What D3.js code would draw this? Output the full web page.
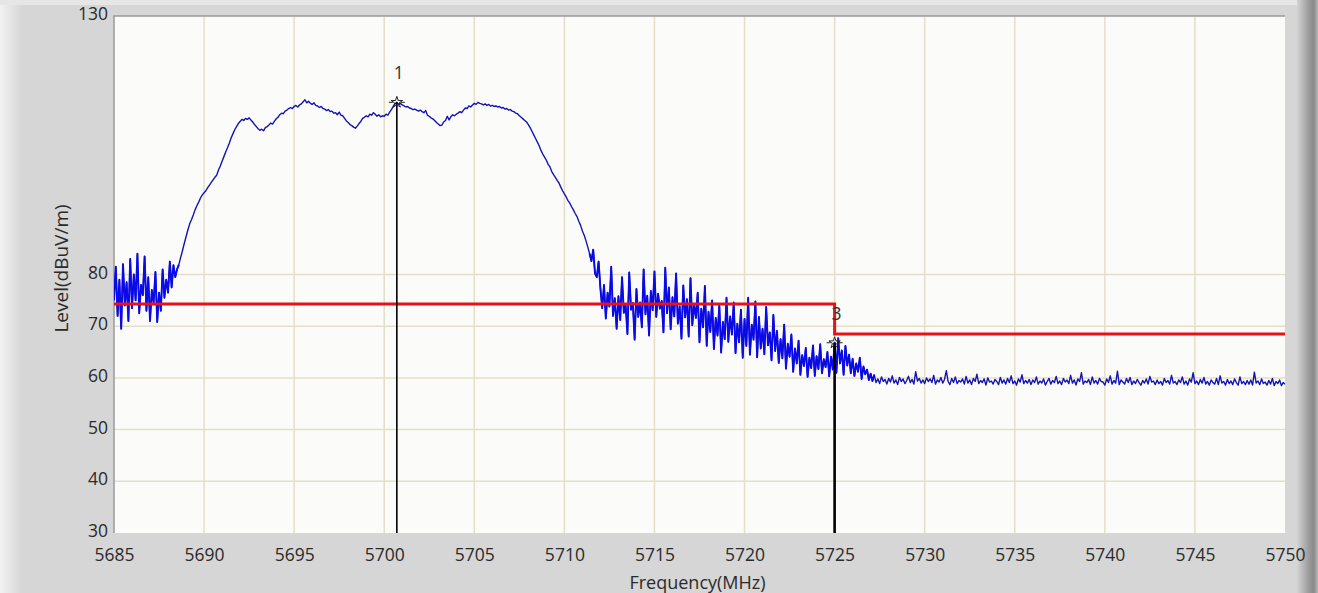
<!DOCTYPE html>
<html>
<head>
<meta charset="utf-8">
<script src="https://cdn.jsdelivr.net/npm/d3@7"></script>
<style>
  html, body { margin: 0; padding: 0; background: #d6d6d6; }
  svg { display: block; }
  .tick text { font-family: "Open Sans", "Noto Sans", sans-serif; font-size: 17.5px; fill: #2a2a2a; }
  .title { font-family: "Open Sans", "Noto Sans", sans-serif; font-size: 18px; fill: #2a2a2a; }
  .mlabel { font-family: "Open Sans", "Noto Sans", sans-serif; font-size: 17.5px; fill: #333; }
</style>
</head>
<body>
<svg id="chart" width="1318" height="593"></svg>
<script>
// Spectrum sweep: level in dBuV/m sampled every 0.1 MHz from 5685.0 to 5750.0 MHz
const freqStart = 5685.0;
const freqStep = 0.1;
const levels = [
  /* 5685 */ 75, 81.5, 72, 79, 69.5, 82, 74, 78.5, 71, 83,
  /* 5686 */ 73.5, 80, 75, 84, 72.5, 78, 76, 83.5, 73, 79.5,
  /* 5687 */ 71, 77, 74.5, 80.5, 70.8, 76.5, 73, 81, 75.5, 79,
  /* 5688 */ 76.5, 82.5, 77.5, 81.8, 79.5, 81, 81.9, 83.3, 84.6, 86,
  /* 5689 */ 87.3, 88.6, 89.8, 90.6, 91.5, 92.5, 93.3, 94, 94.8, 95.4,
  /* 5690 */ 95.8, 96.2, 96.8, 97.3, 97.8, 98.3, 98.8, 99.2, 100.2, 101,
  /* 5691 */ 101.9, 102.8, 103.7, 104.5, 105.4, 106.4, 107.2, 108, 108.6, 109.2,
  /* 5692 */ 109.6, 110, 109.8, 110.2, 110, 110.3, 109.9, 109.5, 109, 108.6,
  /* 5693 */ 108.2, 107.9, 108.1, 107.8, 108.4, 108.6, 108.9, 109.3, 109.1, 109.6,
  /* 5694 */ 110.1, 110.4, 110.9, 111.2, 111.1, 111.6, 111.8, 112.1, 112.3, 112.1,
  /* 5695 */ 112.5, 112.7, 112.4, 112.8, 113, 113.4, 113.8, 113.2, 113.5, 113.1,
  /* 5696 */ 112.9, 113.2, 112.7, 112.6, 112.3, 112.5, 112.1, 112, 111.7, 111.9,
  /* 5697 */ 111.5, 111.6, 111.2, 111.3, 110.9, 111.4, 110.8, 110.7, 110.2, 109.7,
  /* 5698 */ 109.4, 109, 108.8, 108.5, 108.3, 108.7, 109.2, 109.6, 110.2, 110.4,
  /* 5699 */ 110.7, 110.5, 111, 110.8, 111.3, 111, 110.6, 110.9, 110.5, 110.7,
  /* 5700 */ 110.6, 111, 110.8, 111.4, 111.9, 112.5, 113, 113.3, 112.9, 113.1,
  /* 5701 */ 112.8, 112.6, 112.4, 112.5, 112.2, 112.1, 111.9, 112, 111.8, 111.6,
  /* 5702 */ 111.8, 111.5, 111.3, 111.7, 110.8, 110.6, 110.3, 110.1, 109.8, 109.4,
  /* 5703 */ 109.1, 108.8, 108.9, 109.5, 109.8, 110.6, 109.9, 110.5, 110.9, 110.7,
  /* 5704 */ 111, 111.2, 111.5, 111.3, 111.8, 112.2, 112.1, 112.6, 112.4, 112.8,
  /* 5705 */ 113.1, 112.9, 113.3, 113.1, 113, 112.8, 113, 112.7, 112.9, 112.6,
  /* 5706 */ 112.7, 112.5, 112.6, 112.4, 112.5, 112.2, 112.3, 112, 112.1, 111.8,
  /* 5707 */ 111.9, 111.6, 111.5, 111.2, 111.1, 110.7, 110.4, 110.1, 109.8, 109.5,
  /* 5708 */ 109, 108.4, 107.7, 107, 106.3, 105.6, 104.9, 104, 103.3, 102.7,
  /* 5709 */ 102.1, 101.3, 100.8, 99.9, 99.3, 98.8, 98.2, 97.7, 96.9, 96.2,
  /* 5710 */ 95.6, 95, 94.3, 93.8, 93.1, 92.5, 91.8, 91.2, 90.3, 89.5,
  /* 5711 */ 88.4, 87.6, 86.5, 85.3, 84, 82.6, 84.8, 80.2, 79.5, 82.5,
  /* 5712 */ 77.3, 73.5, 78, 71.5, 76.5, 73.8, 81.5, 72, 75.4, 69.5,
  /* 5713 */ 75.8, 71.2, 79.5, 72.6, 74.1, 68.5, 80.4, 73.2, 74.5, 67.4,
  /* 5714 */ 77.2, 71.8, 74.6, 69.8, 81, 72.3, 75.9, 68.2, 76.8, 73.1,
  /* 5715 */ 80.6, 71.8, 76.3, 73.4, 74.9, 68.8, 81.3, 72.5, 77.5, 69.4,
  /* 5716 */ 75.6, 71.9, 80.2, 70.5, 73.8, 67.6, 77.9, 71.7, 75.2, 68,
  /* 5717 */ 79.3, 70.2, 74.2, 71.6, 76.5, 66.9, 73.4, 69.8, 77.8, 66.2,
  /* 5718 */ 72.8, 68.9, 75, 65.6, 71.6, 68.2, 74.1, 64.9, 70.8, 67.5,
  /* 5719 */ 75.5, 67, 71.9, 68.4, 74.6, 64.8, 70.5, 66.9, 73.2, 63.9,
  /* 5720 */ 71.4, 66.2, 75.5, 64.5, 70.3, 67.4, 74.8, 64, 71.8, 65.7,
  /* 5721 */ 69.5, 64.6, 73.7, 66.3, 68.8, 63.4, 72.2, 65.2, 69.1, 62.9,
  /* 5722 */ 67.5, 63.8, 70.3, 61.8, 66.6, 64.1, 68.4, 61.2, 65.7, 62.8,
  /* 5723 */ 67.2, 60.6, 64.4, 62.3, 65.8, 60.2, 63.9, 61.9, 66.3, 60.4,
  /* 5724 */ 64.2, 61.7, 66.5, 60.9, 63.6, 62.1, 65, 60.3, 64.1, 61.6,
  /* 5725 */ 66.8, 61, 67.7, 62.8, 65.3, 60.6, 66.2, 62.4, 64.5, 60.9,
  /* 5726 */ 63.7, 60.4, 62.8, 61.2, 63.9, 59.8, 62.2, 60.7, 61.6, 59.6,
  /* 5727 */ 60.8, 59.4, 60.6, 59.1, 59.8, 58.9, 60.2, 59.3, 59.7, 58.8,
  /* 5728 */ 59.9, 59.2, 60.4, 59, 59.6, 58.7, 60.1, 59.3, 59.8, 58.9,
  /* 5729 */ 59.5, 60.3, 59.1, 59.7, 58.8, 61.2, 59.4, 59.9, 59, 59.6,
  /* 5730 */ 58.9, 60, 59.3, 59.8, 59.1, 60.5, 58.8, 59.6, 59.2, 60.1,
  /* 5731 */ 59, 59.7, 61.4, 59.3, 58.7, 59.9, 59.1, 60.2, 58.9, 59.5,
  /* 5732 */ 59.2, 59.8, 58.8, 60.3, 59, 59.6, 58.7, 59.9, 59.3, 60.7,
  /* 5733 */ 58.9, 59.5, 59.1, 59.8, 58.6, 60, 59.2, 59.4, 58.8, 59.7,
  /* 5734 */ 59.3, 58.7, 60.1, 59, 59.6, 58.8, 59.9, 59.1, 60.4, 58.9,
  /* 5735 */ 59.4, 58.6, 59.8, 59.2, 60.6, 58.9, 59.5, 59, 59.7, 58.7,
  /* 5736 */ 59.6, 59.1, 60.2, 58.8, 59.4, 59, 59.8, 58.6, 59.3, 59.9,
  /* 5737 */ 58.8, 59.5, 59.1, 60.3, 58.9, 59.4, 58.7, 59.9, 59.2, 59.6,
  /* 5738 */ 58.9, 60.5, 59, 59.6, 58.6, 59.8, 59.3, 61, 58.8, 59.4,
  /* 5739 */ 59.1, 59.7, 58.7, 60.2, 59, 59.5, 58.8, 59.9, 59.3, 59.2,
  /* 5740 */ 58.6, 59.8, 59.1, 60.4, 58.8, 59.5, 59, 61.3, 58.7, 59.6,
  /* 5741 */ 59.2, 58.8, 59.9, 59.1, 60.1, 58.7, 59.4, 58.9, 59.7, 59.1,
  /* 5742 */ 58.6, 59.5, 59, 59.8, 58.8, 60.3, 59.2, 59.4, 58.7, 59.6,
  /* 5743 */ 58.9, 59.3, 58.6, 59.9, 59.1, 59.5, 58.8, 60.5, 59, 59.3,
  /* 5744 */ 58.7, 59.6, 59.1, 60.2, 58.8, 59.4, 58.6, 59.8, 59.2, 61,
  /* 5745 */ 58.9, 59.4, 58.7, 59.7, 59, 60.1, 58.8, 59.3, 58.6, 59.6,
  /* 5746 */ 59.1, 58.8, 59.9, 58.7, 60.4, 59, 59.3, 58.6, 59.7, 58.9,
  /* 5747 */ 59.4, 58.7, 59.8, 59.1, 58.6, 60.2, 58.9, 59.3, 58.7, 59.5,
  /* 5748 */ 58.8, 59.6, 58.6, 61.1, 59, 59.4, 58.7, 59.8, 58.9, 59.2,
  /* 5749 */ 58.6, 59.5, 58.8, 59.9, 58.5, 59.3, 58.9, 59.6, 58.5, 59.1,
  /* 5750 */ 58.8
];

// Limit line (step at the band edge)
const limitFreqs = [5685, 5725, 5725, 5750];
const limitLevels = [74.3, 74.3, 68.5, 68.5];

// Markers
const markerFreqs = [5700.7, 5725.0];
const markerNames = ["1", "3"];

// Axis ticks
const xTickValues = [5685, 5690, 5695, 5700, 5705, 5710, 5715, 5720, 5725, 5730, 5735, 5740, 5745, 5750];
const yTickValues = [30, 40, 50, 60, 70, 80, 130];
const yGridValues = [40, 50, 60, 70, 80];

const xTitle = "Frequency(MHz)";
const yTitle = "Level(dBuV/m)";

const W = 1318, H = 593;
const plot = { left: 114, top: 16, right: 1285, bottom: 533 };

const svg = d3.select("#chart");
const defs = svg.append("defs");

// Window background with bevelled edges
const gl = defs.append("linearGradient").attr("id", "edgeL").attr("x1", 0).attr("x2", 1);
gl.append("stop").attr("offset", 0).attr("stop-color", "#f2f2f2");
gl.append("stop").attr("offset", 1).attr("stop-color", "#d6d6d6");
const gr = defs.append("linearGradient").attr("id", "edgeR").attr("x1", 0).attr("x2", 1);
gr.append("stop").attr("offset", 0).attr("stop-color", "#d4d4d4");
gr.append("stop").attr("offset", 0.55).attr("stop-color", "#9c9c9c");
gr.append("stop").attr("offset", 0.8).attr("stop-color", "#8a8a8a");
gr.append("stop").attr("offset", 1).attr("stop-color", "#b8b8b8");

svg.append("rect").attr("width", W).attr("height", H).attr("fill", "#d6d6d6");
svg.append("rect").attr("x", 0).attr("y", 0).attr("width", 22).attr("height", H).attr("fill", "url(#edgeL)");
svg.append("rect").attr("x", 0).attr("y", 0).attr("width", W).attr("height", 5).attr("fill", "#e6e6e6");
svg.append("rect").attr("x", 1297).attr("y", 0).attr("width", 21).attr("height", H).attr("fill", "url(#edgeR)");

const x = d3.scaleLinear().domain([5685, 5750]).range([plot.left, plot.right]);
const y = d3.scaleLinear().domain([30, 130]).range([plot.bottom, plot.top]);

// Plot area
svg.append("rect")
  .attr("x", plot.left).attr("y", plot.top)
  .attr("width", plot.right - plot.left).attr("height", plot.bottom - plot.top)
  .attr("fill", "#fbfbfa");

// Grid
const grid = svg.append("g").attr("stroke", "#e4dfc6").attr("stroke-width", 1.5);
grid.selectAll("line.v").data(xTickValues.slice(1, -1)).join("line")
  .attr("class", "v")
  .attr("x1", d => x(d)).attr("x2", d => x(d))
  .attr("y1", plot.top).attr("y2", plot.bottom);
grid.selectAll("line.h").data(yGridValues).join("line")
  .attr("class", "h")
  .attr("x1", plot.left).attr("x2", plot.right)
  .attr("y1", d => y(d)).attr("y2", d => y(d));

// Frame (top and left)
svg.append("line").attr("x1", plot.left - 1).attr("x2", plot.right).attr("y1", plot.top).attr("y2", plot.top)
  .attr("stroke", "#9a9a9a").attr("stroke-width", 1.5);
svg.append("line").attr("x1", plot.left).attr("x2", plot.left).attr("y1", plot.top).attr("y2", plot.bottom)
  .attr("stroke", "#9a9a9a").attr("stroke-width", 1.5);

// Axes
const xAxis = d3.axisBottom(x).tickValues(xTickValues).tickSize(0).tickPadding(0).tickFormat(d3.format("d"));
const gx = svg.append("g").attr("transform", `translate(0,${plot.bottom + 16})`).call(xAxis);
gx.select(".domain").remove();
gx.selectAll(".tick text").attr("dy", "0.71em");

const yAxis = d3.axisLeft(y).tickValues(yTickValues).tickSize(0).tickPadding(0).tickFormat(d3.format("d"));
const gy = svg.append("g").attr("transform", `translate(${plot.left - 6},-2)`).call(yAxis);
gy.select(".domain").remove();

svg.append("text").attr("class", "title")
  .attr("x", (plot.left + plot.right) / 2 - 2).attr("y", 589)
  .attr("text-anchor", "middle").text(xTitle);
svg.append("text").attr("class", "title")
  .style("font-size", "19px")
  .attr("transform", `translate(68,${(plot.top + plot.bottom) / 2 - 6}) rotate(-90)`)
  .attr("text-anchor", "middle").text(yTitle);

// Trace: one continuous sweep, with the noisy stretches drawn a little heavier
const trace = levels.map((v, i) => ({ f: freqStart + i * freqStep, v }));
const clip = defs.append("clipPath").attr("id", "plotClip");
clip.append("rect").attr("x", plot.left).attr("y", plot.top)
  .attr("width", plot.right - plot.left).attr("height", plot.bottom - plot.top);

const lineGen = d3.line().x(d => x(d.f)).y(d => y(d.v));
const noisyRanges = [[5685, 5688.6], [5711.4, 5727.2]];
const inNoisy = d => noisyRanges.some(([a, b]) => d.f >= a - 1e-9 && d.f <= b + 1e-9);

const traceG = svg.append("g").attr("clip-path", "url(#plotClip)");
traceG.append("path")
  .datum(trace)
  .attr("fill", "none")
  .attr("stroke", "#1414b4")
  .attr("stroke-width", 1.4)
  .attr("stroke-linejoin", "round")
  .attr("d", lineGen);
traceG.selectAll("path.noisy").data(noisyRanges).join("path")
  .attr("class", "noisy")
  .attr("fill", "none")
  .attr("stroke", "#0a0ae8")
  .attr("stroke-width", 1.9)
  .attr("stroke-linejoin", "round")
  .attr("d", r => lineGen(trace.filter(d => d.f >= r[0] - 1e-9 && d.f <= r[1] + 1e-9)));

// Limit line
const limit = limitFreqs.map((f, i) => ({ f, v: limitLevels[i] }));
svg.append("path")
  .datum(limit)
  .attr("fill", "none")
  .attr("stroke", "#e3121b")
  .attr("stroke-width", 3)
  .attr("d", d3.line().x(d => x(d.f)).y(d => y(d.v)));

// Markers
const markers = markerFreqs.map((f, i) => {
  const idx = Math.round((f - freqStart) / freqStep);
  return { f, v: levels[idx], name: markerNames[i], w: i === 0 ? 1.6 : 2.6 };
});
const mg = svg.append("g");
mg.selectAll("line.stem").data(markers).join("line")
  .attr("class", "stem")
  .attr("x1", d => x(d.f)).attr("x2", d => x(d.f))
  .attr("y1", d => y(d.v)).attr("y2", plot.bottom)
  .attr("stroke", "#000").attr("stroke-width", d => d.w);
mg.selectAll("path.sym").data(markers).join("path")
  .attr("class", "sym")
  .attr("transform", d => `translate(${x(d.f)},${y(d.v)})`)
  .attr("d", d3.symbol(d3.symbolStar, 40))
  .attr("fill", "none").attr("stroke", "#222").attr("stroke-width", 1);
mg.selectAll("line.tickL").data(markers).join("line")
  .attr("class", "tickL")
  .attr("x1", d => x(d.f) - 8).attr("x2", d => x(d.f) - 4)
  .attr("y1", d => y(d.v)).attr("y2", d => y(d.v))
  .attr("stroke", "#222").attr("stroke-width", 1);
mg.selectAll("line.tickR").data(markers).join("line")
  .attr("class", "tickR")
  .attr("x1", d => x(d.f) + 4).attr("x2", d => x(d.f) + 8)
  .attr("y1", d => y(d.v)).attr("y2", d => y(d.v))
  .attr("stroke", "#222").attr("stroke-width", 1);
mg.selectAll("text").data(markers).join("text")
  .attr("class", "mlabel")
  .attr("x", d => x(d.f) + 2).attr("y", d => y(d.v) - 23)
  .attr("text-anchor", "middle")
  .text(d => d.name);
</script>
</body>
</html>
